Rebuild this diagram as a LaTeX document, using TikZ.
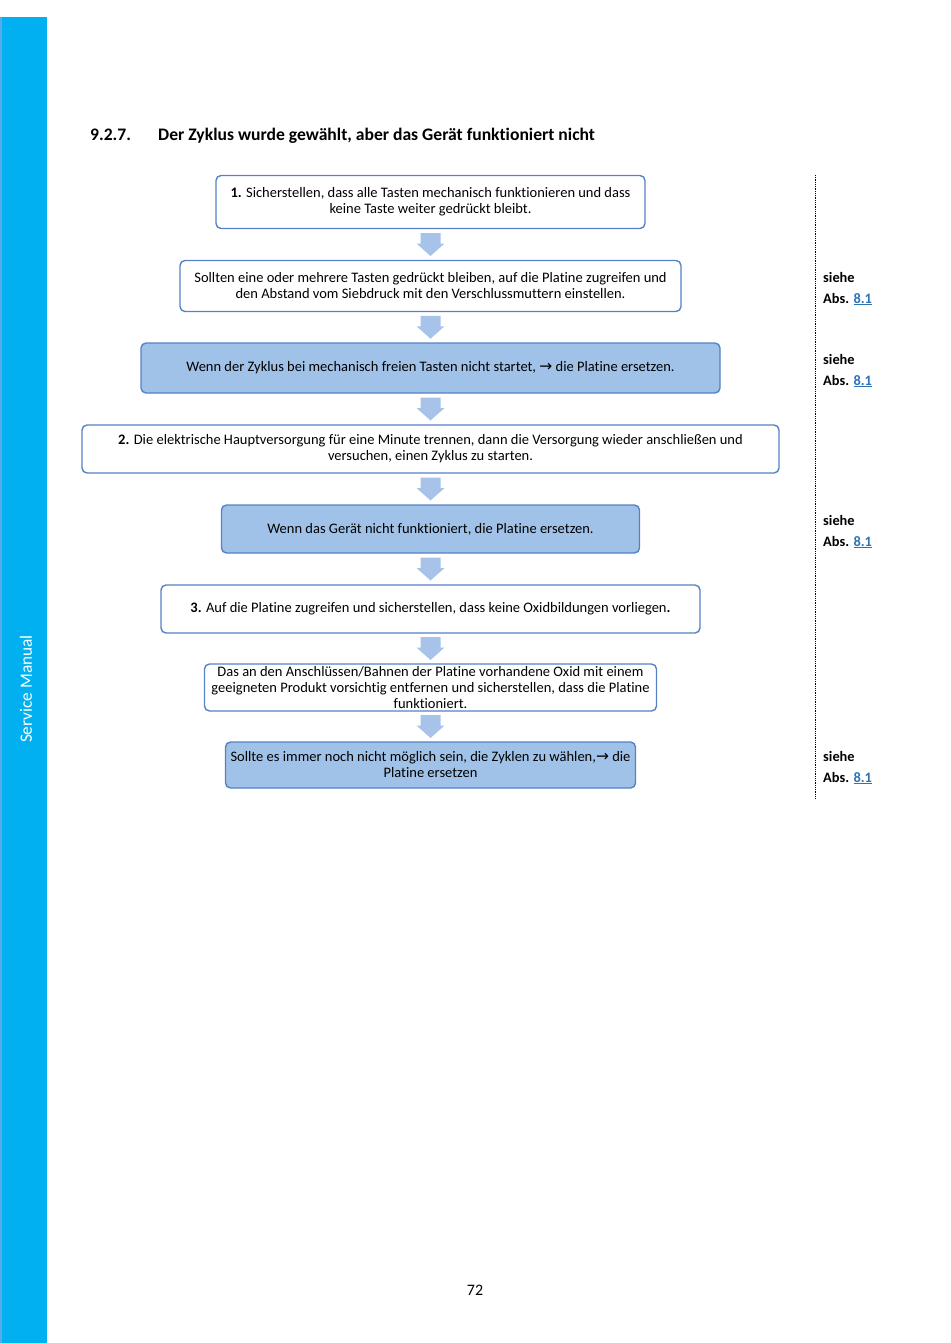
\documentclass[tikz,border=0pt]{standalone}
\usepackage{fontspec}
\setmainfont{Carlito}[RawFeature=-liga]
\newfontfamily\dejavu{DejaVu Sans}
\usetikzlibrary{calc}
\definecolor{side}{RGB}{0,176,240}
\definecolor{sideedge}{RGB}{90,170,235}
\definecolor{bord}{RGB}{84,130,196}
\definecolor{bfill}{RGB}{160,194,232}
\definecolor{afill}{RGB}{168,195,233}
\definecolor{link}{RGB}{46,116,181}
\newcommand{\rarr}{{\dejavu\fontsize{15.5}{16}\selectfont →}}
\tikzset{
  stepbox/.style={draw=bord, line width=1.4pt, rounded corners=5pt, fill=white,
    align=center, inner sep=0pt, font=\fontsize{14.5}{16}\selectfont},
  hotbox/.style={stepbox, fill=bfill},
  sidelabel/.style={anchor=base west, align=left, inner sep=0pt,
    font=\bfseries\fontsize{14.4}{21}\selectfont},
  darrow/.pic={\fill[afill] (-10,-11.5) -- (10,-11.5) -- (10,-1) -- (14,-1)
      -- (0,11.5) -- (-14,-1) -- (-10,-1) -- cycle;}
}
\begin{document}
\begin{tikzpicture}[x=1pt,y=-1pt]
\useasboundingbox (0,0) rectangle (950,1343);
% sidebar
\fill[side] (0,17) rectangle (47,1343);
\fill[sideedge] (0,17) rectangle (1.5,1343);
\node[rotate=90, text=white, font=\fontsize{17.3}{17}\selectfont, inner sep=0pt] (sm) at (26,689) {Service Manual};
% title
\node[anchor=base west, font=\bfseries\fontsize{17.6}{20}\selectfont, inner sep=0pt] (tnum) at (90,141) {9.2.7.};
\node[anchor=base west, font=\bfseries\fontsize{17.6}{20}\selectfont, inner sep=0pt] (ttl) at (158,141) {Der Zyklus wurde gewählt, aber das Gerät funktioniert nicht};
% boxes
\node[stepbox, minimum width=429pt, minimum height=53pt] (b1) at (430.5,202)
  {\textbf{1.} Sicherstellen, dass alle Tasten mechanisch funktionieren und dass\\ keine Taste weiter gedrückt bleibt.};
\node[stepbox, minimum width=501pt, minimum height=51pt] (b2) at (430.5,286)
  {Sollten eine oder mehrere Tasten gedrückt bleiben, auf die Platine zugreifen und\\ den Abstand vom Siebdruck mit den Verschlussmuttern einstellen.};
\node[hotbox, minimum width=579pt, minimum height=50pt] (b3) at (430.5,368)
  {Wenn der Zyklus bei mechanisch freien Tasten nicht startet, \rarr{} die Platine ersetzen.};
\node[stepbox, minimum width=697pt, minimum height=48pt] (b4) at (430.5,449)
  {\textbf{2.} Die elektrische Hauptversorgung für eine Minute trennen, dann die Versorgung wieder anschließen und\\ versuchen, einen Zyklus zu starten.};
\node[hotbox, minimum width=418pt, minimum height=48pt] (b5) at (430.5,529)
  {Wenn das Gerät nicht funktioniert, die Platine ersetzen.};
\node[stepbox, minimum width=539pt, minimum height=48pt] (b6) at (430.5,609)
  {\textbf{3.} Auf die Platine zugreifen und sicherstellen, dass keine Oxidbildungen vorliegen\textbf{.}};
\node[stepbox, minimum width=452pt, minimum height=47pt] (b7) at (430.5,687.5)
  {Das an den Anschlüssen/Bahnen der Platine vorhandene Oxid mit einem\\ geeigneten Produkt vorsichtig entfernen und sicherstellen, dass die Platine\\ funktioniert.};
\node[hotbox, minimum width=410pt, minimum height=46pt] (b8) at (430.5,765)
  {Sollte es immer noch nicht möglich sein, die Zyklen zu wählen,\rarr{} die\\ Platine ersetzen};
% arrows
\foreach \a/\b in {b1/b2,b2/b3,b3/b4,b4/b5,b5/b6,b6/b7,b7/b8}
  \pic at ($(\a.south)!0.5!(\b.north)$) {darrow};
% dotted rule
\coordinate (rt) at (815,175);
\coordinate (rb) at (815,798);
\draw[densely dotted, line width=0.8pt] (rt) -- (rb);
% side labels
\node[sidelabel] (s1) at (823,303) {siehe\\Abs. \textcolor{link}{\underline{8.1}}};
\node[sidelabel] (s2) at (823,385) {siehe\\Abs. \textcolor{link}{\underline{8.1}}};
\node[sidelabel] (s3) at (823,546) {siehe\\Abs. \textcolor{link}{\underline{8.1}}};
\node[sidelabel] (s4) at (823,782) {siehe\\Abs. \textcolor{link}{\underline{8.1}}};
% page number
\node[anchor=base, font=\fontsize{16}{16}\selectfont, inner sep=0pt] (pg) at (475,1295) {72};
\end{tikzpicture}
\end{document}
